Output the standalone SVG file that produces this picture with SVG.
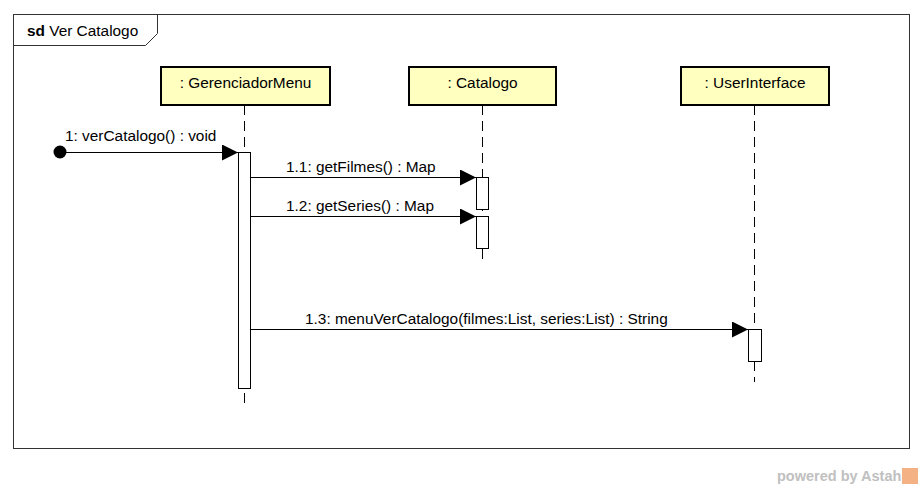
<svg xmlns="http://www.w3.org/2000/svg" width="922" height="489" viewBox="0 0 922 489">
<defs>
<style>
text{font-family:"Liberation Sans",Arial,sans-serif;font-size:15.4px;fill:#000}
.box{fill:#FFFFC0;stroke:#000;stroke-width:2}
.life{stroke:#000;stroke-width:1;stroke-dasharray:10,6;fill:none}
.act{fill:#fff;stroke:#000;stroke-width:1}
.msg{stroke:#000;stroke-width:1;fill:none;marker-end:url(#arr)}
</style>
<marker id="arr" markerWidth="16" markerHeight="16" refX="16" refY="8" orient="auto" markerUnits="userSpaceOnUse">
<path d="M0,0 L16,8 L0,16 Z" fill="#000"/>
</marker>
</defs>
<rect width="922" height="489" fill="#fff"/>
<g id="frame">
<rect x="13.5" y="14.5" width="896" height="434" fill="none" stroke="#333" stroke-width="1"/>
<path d="M13.5,45.5 L145.5,45.5 L157.5,33.5 L157.5,14.5" fill="none" stroke="#333" stroke-width="1"/>
<text x="27" y="36"><tspan font-weight="bold">sd</tspan> Ver Catalogo</text>
</g>
<g id="lifeline-gerenciador">
<line class="life" x1="244.5" y1="105" x2="244.5" y2="409"/>
<rect class="box" x="161" y="67" width="169" height="38"/>
<text x="245.5" y="88" text-anchor="middle">: GerenciadorMenu</text>
<rect class="act" x="238.5" y="152.5" width="12" height="236"/>
</g>
<g id="lifeline-catalogo">
<line class="life" x1="482.5" y1="105" x2="482.5" y2="265"/>
<rect class="box" x="409" y="67" width="147" height="38"/>
<text x="482.5" y="88" text-anchor="middle">: Catalogo</text>
<rect class="act" x="476.5" y="177.5" width="12" height="32"/>
<rect class="act" x="476.5" y="216.5" width="12" height="32"/>
</g>
<g id="lifeline-userinterface">
<line class="life" x1="754.5" y1="105" x2="754.5" y2="382"/>
<rect class="box" x="681" y="67" width="148" height="38"/>
<text x="755" y="88" text-anchor="middle">: UserInterface</text>
<rect class="act" x="748.5" y="329.5" width="13" height="32"/>
</g>
<g id="connectors">
<circle cx="60" cy="152" r="6.5" fill="#000"/>
<line class="msg" x1="60" y1="152.5" x2="238" y2="152.5"/>
<text x="65" y="141">1: verCatalogo() : void</text>
<line class="msg" x1="251" y1="177.5" x2="476" y2="177.5"/>
<text x="286" y="172">1.1: getFilmes() : Map</text>
<line class="msg" x1="251" y1="216.5" x2="476" y2="216.5"/>
<text x="286" y="211">1.2: getSeries() : Map</text>
<line class="msg" x1="251" y1="329.5" x2="748" y2="329.5"/>
<text x="305" y="324">1.3: menuVerCatalogo(filmes:List, series:List) : String</text>
</g>
<g id="watermark">
<text x="777" y="481" style="font-weight:bold;font-size:14.5px;fill:#c0c0c0">powered by Astah</text>
<rect x="902" y="468" width="16" height="16" fill="#f4b183"/>
</g>
</svg>
